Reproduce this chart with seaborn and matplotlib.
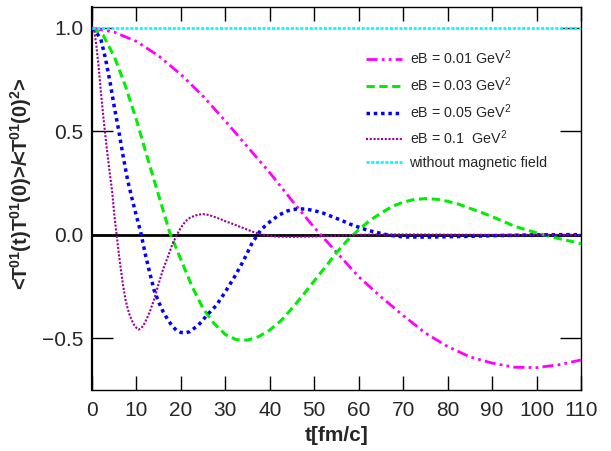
import numpy as np
import pandas as pd
import matplotlib
matplotlib.use("Agg")
import matplotlib.pyplot as plt
import seaborn as sns

sns.set_style("ticks")
plt.rcParams["font.family"] = ["Liberation Sans", "DejaVu Sans"]
plt.rcParams["mathtext.fontset"] = "custom"
plt.rcParams["mathtext.rm"] = "Liberation Sans"
plt.rcParams["mathtext.bf"] = "Liberation Sans:bold"
plt.rcParams["mathtext.default"] = "regular"

# ---- correlator data, t in fm/c ----
t_001 = [0, 5, 10, 15, 20, 25, 30, 35, 40, 45, 50, 55, 60, 65, 70, 75, 80,
         85, 90, 95, 100, 105, 110]
c_001 = [1.0, 0.98, 0.935, 0.865, 0.775, 0.67, 0.55, 0.425, 0.30, 0.165,
         0.035, -0.084, -0.203, -0.30, -0.39, -0.475, -0.54, -0.59, -0.62,
         -0.64, -0.642, -0.628, -0.605]

t_003 = [0, 2.5, 5, 7.5, 10, 12.5, 15, 17.5, 20, 22.5, 25, 27.5, 30, 32.5,
         35, 37.5, 40, 42.5, 45, 47.5, 50, 52.5, 55, 57.5, 60, 62.5, 65,
         67.5, 70, 72.5, 75, 77.5, 80, 82.5, 85, 87.5, 90, 92.5, 95, 97.5,
         100, 102.5, 105, 107.5, 110]
c_003 = [1.0, 0.965, 0.862, 0.72, 0.555, 0.37, 0.19, 0.01, -0.12, -0.25,
         -0.357, -0.43, -0.482, -0.507, -0.509, -0.492, -0.46, -0.415,
         -0.355, -0.29, -0.222, -0.155, -0.086, -0.025, 0.025, 0.07, 0.105,
         0.137, 0.158, 0.171, 0.175, 0.172, 0.162, 0.148, 0.128, 0.109, 0.088,
         0.065, 0.042, 0.025, 0.01, -0.005, -0.018, -0.03, -0.043]

t_005 = [0, 1, 2, 3, 4, 5, 6, 7, 8, 9, 10, 11, 12, 13, 14, 15, 16, 17, 18,
         19, 20, 21, 22, 24, 26, 28, 30, 32, 34, 36, 38, 40, 42, 44, 46, 48,
         50, 52, 54, 56, 58, 60, 62, 64, 66, 68, 70, 75, 80, 85, 90, 95, 100,
         105, 110]
c_005 = [1.0, 0.978, 0.945, 0.855, 0.745, 0.62, 0.505, 0.38, 0.265, 0.175,
         0.09, 0.008, -0.095, -0.185, -0.27, -0.325, -0.372, -0.408, -0.44,
         -0.462, -0.472, -0.474, -0.468, -0.435, -0.385, -0.34, -0.275,
         -0.205, -0.128, -0.04, 0.025, 0.063, 0.095, 0.116, 0.125, 0.125,
         0.117, 0.105, 0.088, 0.071, 0.052, 0.037, 0.022, 0.012, 0.002,
         -0.005, -0.01, -0.011, -0.009, -0.007, -0.004, -0.002, 0.0, 0.001,
         0.001]

t_01 = [0, 0.5, 1, 1.5, 2, 2.5, 3, 3.5, 4, 4.5, 5, 5.5, 6, 6.5, 7, 7.5, 8,
        8.5, 9, 9.5, 10, 10.5, 11, 11.5, 12, 13, 14, 15, 16, 17, 18, 19, 20,
        21, 22, 23, 24, 25, 26, 27, 28, 29, 30, 32, 34, 36, 38, 40, 42, 45,
        50, 55, 60, 65, 70, 80, 90, 100, 110]
c_01 = [1.0, 0.99, 0.91, 0.81, 0.69, 0.58, 0.48, 0.385, 0.297, 0.215, 0.1,
        0.005, -0.085, -0.17, -0.245, -0.31, -0.355, -0.39, -0.415, -0.437,
        -0.45, -0.458, -0.452, -0.44, -0.42, -0.372, -0.31, -0.235, -0.165,
        -0.11, -0.05, -0.003, 0.035, 0.065, 0.082, 0.092, 0.098, 0.1, 0.097,
        0.091, 0.083, 0.075, 0.066, 0.05, 0.033, 0.016, 0.003, -0.005,
        -0.009, -0.01, -0.008, -0.004, 0.0, 0.002, 0.002, 0.001, 0.0, 0.0,
        0.0]

t_free = [0, 110]
c_free = [1.0, 1.0]

labels = ["eB = 0.01 GeV$^2$", "eB = 0.03 GeV$^2$", "eB = 0.05 GeV$^2$",
          "eB = 0.1  GeV$^2$", "without magnetic field"]

series = [
    (t_001, c_001, labels[0], "#ff00ff", 2.0, (0, (4, 1.5, 1, 1.5, 1, 1.5))),
    (t_003, c_003, labels[1], "#00ee00", 2.2, (0, (2.7, 1.5))),
    (t_005, c_005, labels[2], "#0000ff", 2.5, (0, (1, 1.1))),
    (t_01, c_01, labels[3], "#990099", 1.5, (0, (1, 0.8))),
    (t_free, c_free, labels[4], "#00ffff", 2.0, (0, (1.1, 0.6))),
]

fig = plt.figure(figsize=(6.11, 4.51), dpi=100)
ax = fig.add_axes([0.1506, 0.1353, 0.8004, 0.8485])

# zero reference line
ax.axhline(0.0, color="black", lw=2.0, zorder=1)

for t, c, lab, col, lw, ls in series:
    df = pd.DataFrame({"t": t, "c": c})
    sns.lineplot(data=df, x="t", y="c", ax=ax, color=col, lw=lw,
                 linestyle=ls, label=lab, zorder=3)

ax.set_xlim(0, 110)
ax.set_ylim(-0.75, 1.1)
ax.set_xticks(np.arange(0, 111, 10))
ax.set_yticks([-0.5, 0.0, 0.5, 1.0])
ax.set_yticklabels(["\u22120.5", "0.0", "0.5", "1.0"])

ax.tick_params(axis="both", which="major", direction="in", labelsize=15,
               top=True, right=True, color="black")
ax.tick_params(axis="y", length=15, width=1.0, pad=6)
ax.tick_params(axis="x", length=10, width=1.0, pad=8)
for s in ax.spines.values():
    s.set_color("black")
    s.set_linewidth(1.0)
ax.spines["left"].set_linewidth(1.6)

ax.set_xlabel("t[fm/c]", fontsize=15, fontweight="bold", labelpad=4)
ax.set_ylabel(r"<T$^{01}$(t)T$^{01}$(0)>/<T$^{01}$(0)$^{2}$>",
              fontsize=14.5, fontweight="bold")
ax.yaxis.set_label_coords(-0.118, 0.54)

leg = ax.legend(loc="upper left", bbox_to_anchor=(0.56, 0.892),
                frameon=False, fontsize=10.3, handlelength=2.55,
                handletextpad=0.5, labelspacing=0.57, borderpad=0,
                borderaxespad=0)

fig.savefig("out.png", dpi=100)
